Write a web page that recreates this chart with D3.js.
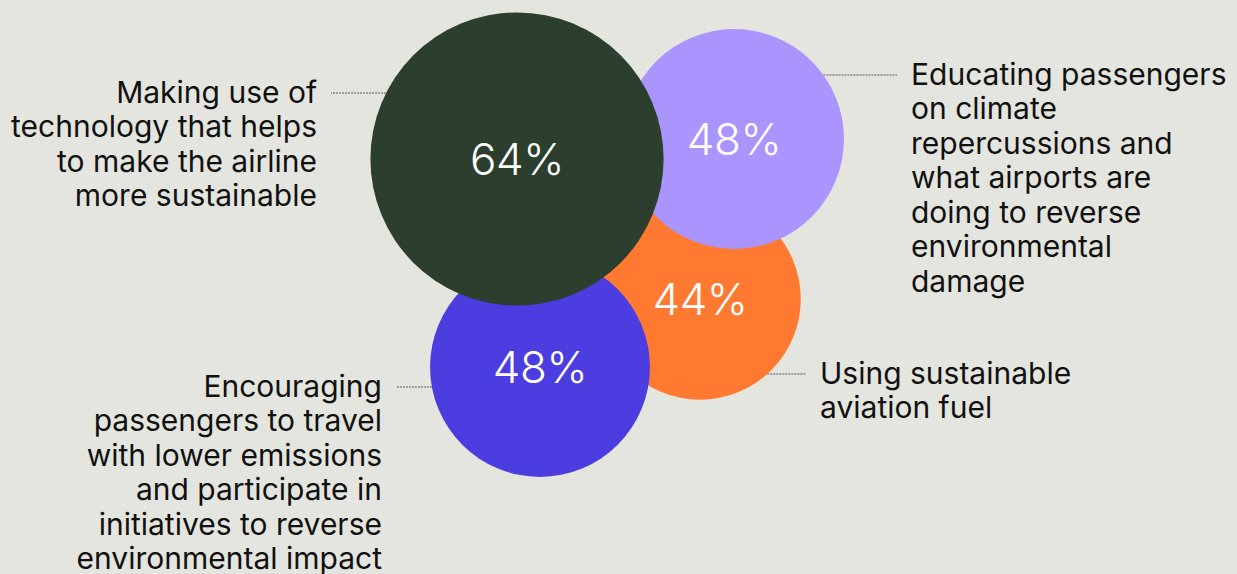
<!DOCTYPE html>
<html>
<head>
<meta charset="utf-8">
<script src="https://cdn.jsdelivr.net/npm/d3@7"></script>
<style>
  html, body { margin: 0; padding: 0; background: #e5e5df; }
  svg { display: block; }
  text { font-family: Inter, "Noto Sans", sans-serif; }
</style>
</head>
<body>
<svg id="chart" width="1237" height="574"></svg>
<script>
// Share of respondents choosing each sustainability initiative
const categories = [
  "Using sustainable aviation fuel",
  "Educating passengers on climate repercussions and what airports are doing to reverse environmental damage",
  "Encouraging passengers to travel with lower emissions and participate in initiatives to reverse environmental impact",
  "Making use of technology that helps to make the airline more sustainable"
];
const values = [44, 48, 48, 64];
const labelLines = [
  ["Using sustainable", "aviation fuel"],
  ["Educating passengers", "on climate", "repercussions and", "what airports are", "doing to reverse", "environmental", "damage"],
  ["Encouraging", "passengers to travel", "with lower emissions", "and participate in", "initiatives to reverse", "environmental impact"],
  ["Making use of", "technology that helps", "to make the airline", "more sustainable"]
];
const colors = ["#ff7a30", "#aa94fd", "#4b3de0", "#2c3e2d"];

// Layout: bubble centres, label anchors and leader heights (drawn back to front)
const layout = [
  { cx: 700, cy: 299, side: "right", tx: 820, ty: 373, ly: 374 },
  { cx: 734, cy: 139, side: "right", tx: 911, ty: 74,  ly: 75 },
  { cx: 540, cy: 367, side: "left",  tx: 382, ty: 386, ly: 387 },
  { cx: 517, cy: 159, side: "left",  tx: 317, ty: 92,  ly: 93 }
];

const lineHeight = 34.5;
const svg = d3.select("#chart");
const r = d3.scaleLinear().domain([0, 64]).range([0, 146.6]);

const data = values.map((v, i) => ({
  value: v, name: categories[i], lines: labelLines[i], color: colors[i], ...layout[i]
}));

// leader lines from bubble edge towards label
svg.append("g").selectAll("line").data(data).join("line")
  .attr("x1", d => {
    const dy = d.ly - d.cy, rr = r(d.value);
    const dx = Math.sqrt(Math.max(0, rr * rr - dy * dy));
    return d.side === "right" ? d.cx + dx : d.cx - dx;
  })
  .attr("x2", d => d.side === "right" ? d.tx - 14 : d.tx + 14)
  .attr("y1", d => d.ly).attr("y2", d => d.ly)
  .attr("stroke", "#555")
  .attr("stroke-width", 1)
  .attr("stroke-dasharray", "2,1");

const bubbles = svg.append("g").selectAll("g").data(data).join("g");

bubbles.append("circle")
  .attr("cx", d => d.cx).attr("cy", d => d.cy)
  .attr("r", d => r(d.value))
  .attr("fill", d => d.color);

bubbles.append("text")
  .attr("x", d => d.cx).attr("y", d => d.cy)
  .attr("text-anchor", "middle")
  .attr("dy", "0.36em")
  .attr("fill", "#ffffff")
  .attr("font-size", 44)
  .attr("font-weight", 300)
  .attr("letter-spacing", -0.5)
  .text(d => d.value + "%");

// category labels
const labels = svg.append("g").selectAll("text").data(data).join("text")
  .attr("text-anchor", d => d.side === "right" ? "start" : "end")
  .attr("font-size", 30)
  .attr("font-weight", 400)
  .attr("fill", "#111111");

labels.selectAll("tspan").data(d => d.lines.map((t, j) => ({ t, j, d }))).join("tspan")
  .attr("x", o => o.d.tx)
  .attr("y", o => o.d.ty + o.j * lineHeight)
  .attr("dy", "0.36em")
  .text(o => o.t);
</script>
</body>
</html>
